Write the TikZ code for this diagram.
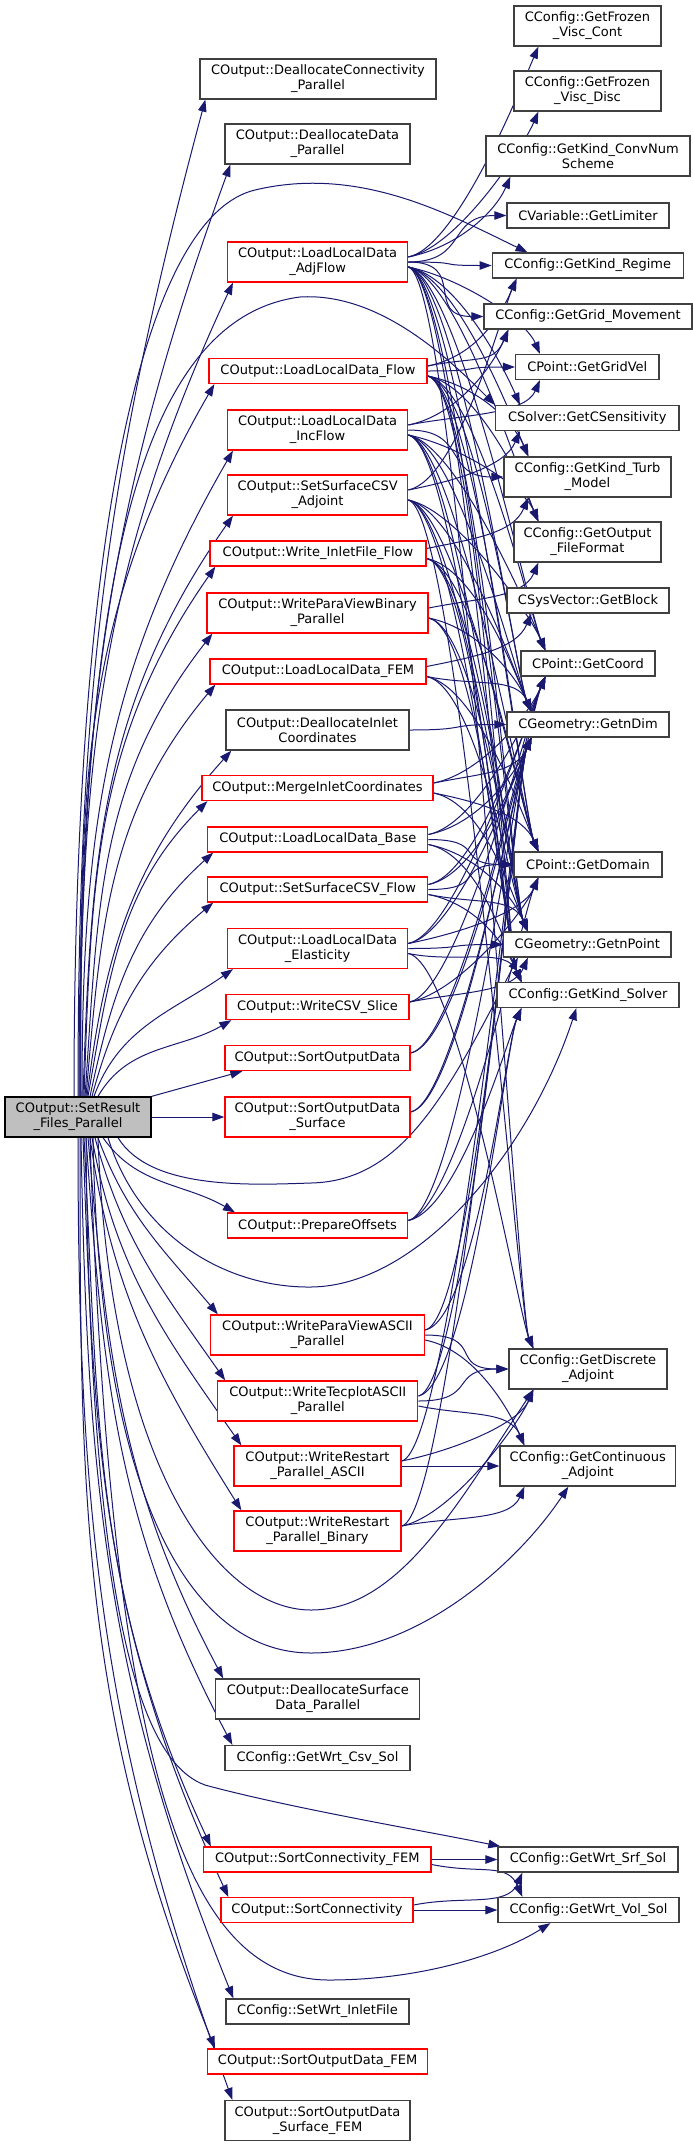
\documentclass[tikz,border=0pt]{standalone}
\usepackage{fontspec}
\setmainfont{DejaVu Sans}
\usetikzlibrary{arrows.meta}
\definecolor{edgec}{HTML}{191970}
\definecolor{bord}{HTML}{404040}
\definecolor{rootfill}{HTML}{BFBFBF}
\pgfdeclarelayer{bg}
\pgfsetlayers{bg,main}
\begin{document}
\begin{tikzpicture}[x=1pt,y=1pt,
  box/.style={draw=bord, line width=1.3pt, fill=white, inner sep=0pt, align=center, font=\fontsize{13}{15}\selectfont},
  rbox/.style={box, draw=red},
  rootbox/.style={box, draw=black, fill=rootfill},
  e/.style={draw=edgec, line width=1pt, -{Triangle[length=12pt,width=8.5pt]}}]
\useasboundingbox (0,0) rectangle (693,-2147);
% root
\node[rootbox, minimum width=146pt, minimum height=40pt] (root) at (78,-1117) {COutput::SetResult\\\_Files\_Parallel};
% middle column
\node[box, minimum width=236pt, minimum height=40pt] (dcp) at (318,-79) {COutput::DeallocateConnectivity\\\_Parallel};
\node[box, minimum width=185pt, minimum height=40pt] (ddp) at (317.5,-144) {COutput::DeallocateData\\\_Parallel};
\node[rbox, minimum width=180pt, minimum height=40pt] (adj) at (317.6,-262) {COutput::LoadLocalData\\\_AdjFlow};
\node[rbox, minimum width=218pt, minimum height=25pt] (flow) at (318,-371) {COutput::LoadLocalData\_Flow};
\node[rbox, minimum width=180pt, minimum height=40pt] (inc) at (317.6,-430) {COutput::LoadLocalData\\\_IncFlow};
\node[rbox, minimum width=180pt, minimum height=40pt] (sadj) at (317.6,-495) {COutput::SetSurfaceCSV\\\_Adjoint};
\node[rbox, minimum width=216pt, minimum height=25pt] (inlet) at (318,-553.5) {COutput::Write\_InletFile\_Flow};
\node[rbox, minimum width=221pt, minimum height=40pt] (pvb) at (317.5,-613) {COutput::WriteParaViewBinary\\\_Parallel};
\node[rbox, minimum width=216pt, minimum height=25pt] (fem) at (318,-671.5) {COutput::LoadLocalData\_FEM};
\node[box, minimum width=183pt, minimum height=40pt] (dic) at (317.5,-730) {COutput::DeallocateInlet\\Coordinates};
\node[rbox, minimum width=231pt, minimum height=25pt] (mic) at (317.5,-788) {COutput::MergeInletCoordinates};
\node[rbox, minimum width=220pt, minimum height=25pt] (base) at (317.8,-839.5) {COutput::LoadLocalData\_Base};
\node[rbox, minimum width=220pt, minimum height=25pt] (sflow) at (317.8,-889.5) {COutput::SetSurfaceCSV\_Flow};
\node[rbox, minimum width=180pt, minimum height=40pt] (elas) at (317.6,-948.5) {COutput::LoadLocalData\\\_Elasticity};
\node[rbox, minimum width=183pt, minimum height=25pt] (slice) at (317.5,-1007) {COutput::WriteCSV\_Slice};
\node[rbox, minimum width=185pt, minimum height=25pt] (sod) at (317.5,-1058) {COutput::SortOutputData};
\node[rbox, minimum width=185pt, minimum height=40pt] (sods) at (317.5,-1117) {COutput::SortOutputData\\\_Surface};
\node[rbox, minimum width=180pt, minimum height=25pt] (prep) at (317.6,-1225.5) {COutput::PrepareOffsets};
\node[rbox, minimum width=214pt, minimum height=40pt] (pva) at (317.5,-1335) {COutput::WriteParaViewASCII\\\_Parallel};
\node[rbox, minimum width=200pt, minimum height=40pt] (tec) at (317.8,-1401) {COutput::WriteTecplotASCII\\\_Parallel};
\node[rbox, minimum width=167pt, minimum height=40pt] (rasc) at (317.5,-1466) {COutput::WriteRestart\\\_Parallel\_ASCII};
\node[rbox, minimum width=167pt, minimum height=40pt] (rbin) at (317.5,-1531) {COutput::WriteRestart\\\_Parallel\_Binary};
\node[box, minimum width=204pt, minimum height=40pt] (dsd) at (317.8,-1699) {COutput::DeallocateSurface\\Data\_Parallel};
\node[box, minimum width=185pt, minimum height=25pt] (csv) at (317.5,-1758) {CConfig::GetWrt\_Csv\_Sol};
\node[rbox, minimum width=227.6pt, minimum height=25pt] (scf) at (317.3,-1859.5) {COutput::SortConnectivity\_FEM};
\node[rbox, minimum width=192pt, minimum height=25pt] (sc) at (317,-1910) {COutput::SortConnectivity};
\node[box, minimum width=183pt, minimum height=25pt] (swi) at (317.5,-2011.5) {CConfig::SetWrt\_InletFile};
\node[rbox, minimum width=220pt, minimum height=25pt] (sodf) at (317.6,-2061.5) {COutput::SortOutputData\_FEM};
\node[box, minimum width=185pt, minimum height=40pt] (sodsf) at (317.5,-2120.5) {COutput::SortOutputData\\\_Surface\_FEM};
% right column
\node[box, minimum width=147pt, minimum height=40pt] (fvc) at (587.5,-26) {CConfig::GetFrozen\\\_Visc\_Cont};
\node[box, minimum width=147pt, minimum height=40pt] (fvd) at (587.5,-91) {CConfig::GetFrozen\\\_Visc\_Disc};
\node[box, minimum width=204pt, minimum height=40pt] (conv) at (588,-156) {CConfig::GetKind\_ConvNum\\Scheme};
\node[box, minimum width=162pt, minimum height=25pt] (lim) at (588,-215.5) {CVariable::GetLimiter};
\node[box, minimum width=191pt, minimum height=25pt] (regime) at (587.7,-265.5) {CConfig::GetKind\_Regime};
\node[box, minimum width=208pt, minimum height=25pt] (grid) at (588,-316.5) {CConfig::GetGrid\_Movement};
\node[box, minimum width=143.5pt, minimum height=25pt] (gvel) at (587.3,-367) {CPoint::GetGridVel};
\node[box, minimum width=183.5pt, minimum height=25pt] (csens) at (587.3,-418) {CSolver::GetCSensitivity};
\node[box, minimum width=167pt, minimum height=40pt] (turb) at (587.5,-477) {CConfig::GetKind\_Turb\\\_Model};
\node[box, minimum width=147pt, minimum height=40pt] (ffmt) at (587.5,-542) {CConfig::GetOutput\\\_FileFormat};
\node[box, minimum width=162pt, minimum height=25pt] (block) at (588,-600.5) {CSysVector::GetBlock};
\node[box, minimum width=134pt, minimum height=25pt] (coord) at (588,-663.5) {CPoint::GetCoord};
\node[box, minimum width=162pt, minimum height=25pt] (ndim) at (588,-724.5) {CGeometry::GetnDim};
\node[box, minimum width=148pt, minimum height=25pt] (dom) at (588,-864.5) {CPoint::GetDomain};
\node[box, minimum width=167.6pt, minimum height=25pt] (npt) at (587.3,-944.5) {CGeometry::GetnPoint};
\node[box, minimum width=182pt, minimum height=25pt] (solver) at (588,-995) {CConfig::GetKind\_Solver};
\node[box, minimum width=158pt, minimum height=40pt] (disc) at (588,-1369) {CConfig::GetDiscrete\\\_Adjoint};
\node[box, minimum width=175.6pt, minimum height=40pt] (cont) at (587.8,-1466) {CConfig::GetContinuous\\\_Adjoint};
\node[box, minimum width=180pt, minimum height=25pt] (srf) at (588,-1859.5) {CConfig::GetWrt\_Srf\_Sol};
\node[box, minimum width=181pt, minimum height=25pt] (vol) at (588.5,-1910) {CConfig::GetWrt\_Vol\_Sol};

\begin{pgfonlayer}{bg}
\fill[white] (0,0) rectangle (693,-2147);
% root to middle nodes above
\foreach \n/\o/\i/\s in {dcp/90/-105/0, ddp/90/-110/1, adj/90/-115/2, flow/90/-120/3, inc/90/-120/4,
  sadj/88/-125/5, inlet/88/-125/6, pvb/86/-128/7, fem/85/-130/8, dic/83/-132/9, mic/80/-135/10,
  base/78/-138/12, sflow/75/-140/14, elas/70/-145/16, slice/60/-150/20}
  \draw[e] ([xshift=\s pt]root.north) to[out=\o,in=\i] ([xshift=6pt]\n.south west);
\draw[e] (root.north east) -- ([xshift=18pt]sod.south west);
\draw[e] (root.east) -- (sods.west);
% root to middle nodes below
\foreach \n/\o/\i/\s in {prep/-55/150/25, pva/-70/130/20, tec/-75/125/17, rasc/-80/125/14,
  rbin/-82/122/12, dsd/-85/118/10, csv/-86/118/8, scf/-87/115/6, sc/-88/115/5, swi/-89/112/3,
  sodf/-90/112/2, sodsf/-90/110/0}
  \draw[e] ([xshift=\s pt]root.south) to[out=\o,in=\i] ([xshift=8pt]\n.north west);
% root to right column
\draw[e] ([xshift=-4pt]root.north) .. controls (74,-500) and (150,-215) .. (255,-190) .. controls (360,-165) and (450,-215) .. ([xshift=36pt]regime.north west);
\draw[e] ([xshift=2pt]root.north) .. controls (80,-650) and (120,-320) .. (300,-297) .. controls (380,-292) and (450,-360) .. (csens.north west);
\draw[e] ([xshift=40pt]root.south) .. controls (150,-1190) and (250,-1185) .. (311,-1183) .. controls (400,-1181) and (445,-1100) .. ([xshift=15pt]npt.south west);
\draw[e] ([xshift=30pt]root.south) .. controls (140,-1240) and (230,-1288) .. (311,-1287) .. controls (420,-1286) and (530,-1150) .. ([xshift=80pt]solver.south west);
\draw[e] ([xshift=20pt]root.south) .. controls (110,-1470) and (220,-1610) .. (311,-1610) .. controls (400,-1610) and (460,-1500) .. ([xshift=25pt]disc.south west);
\draw[e] ([xshift=15pt]root.south) .. controls (100,-1520) and (200,-1653) .. (311,-1653) .. controls (420,-1653) and (520,-1560) .. ([xshift=69pt]cont.south west);
\draw[e] ([xshift=8pt]root.south) .. controls (90,-1650) and (150,-1765) .. (205,-1785) .. controls (290,-1808) and (420,-1830) .. ([xshift=3pt]srf.north west);
\draw[e] ([xshift=12pt]root.south) .. controls (110,-1750) and (180,-1980) .. (329,-1980) .. controls (420,-1980) and (500,-1955) .. ([xshift=53pt]vol.south west);
% middle to right: level
\foreach \a/\b in {adj/lim, adj/regime, adj/grid, flow/gvel, inc/turb, dic/ndim, base/dom, sflow/dom,
  elas/npt, pva/disc, tec/disc, rasc/cont, scf/srf, sc/vol}
  \draw[e] (\a.east) .. controls +(60,0) and +(-60,0) .. (\b.west);
% middle to right: upward
\foreach \a/\b in {adj/fvc, adj/fvd, adj/conv, flow/regime, flow/grid, inc/grid, inc/gvel,
  sadj/csens, sadj/regime, inlet/turb, pvb/ffmt, fem/block, mic/ndim, mic/coord,
  base/ndim, base/coord, sflow/ndim, sflow/coord, elas/dom, elas/coord, elas/ndim,
  slice/npt, slice/dom, slice/coord, sod/coord, sod/ndim, sods/coord, sods/ndim,
  prep/solver, prep/ndim, prep/dom, pva/solver, pva/ndim, tec/ndim, tec/solver,
  rasc/disc, rasc/ndim, rbin/cont, rbin/disc, rbin/ndim, sc/srf}
  \draw[e] ([yshift=5pt]\a.east) .. controls +(50,10) and +(-15,-35) .. ([xshift=25pt]\b.south west);
% middle to right: downward
\foreach \a/\b in {adj/gvel, adj/csens, adj/turb, adj/ffmt, adj/coord, adj/ndim, adj/dom, adj/npt,
  adj/solver, adj/disc, flow/turb, flow/ffmt, flow/coord, flow/ndim, flow/dom, flow/npt, flow/solver,
  inc/ffmt, inc/coord, inc/ndim, inc/dom, inc/npt, inc/solver,
  sadj/coord, sadj/ndim, sadj/dom, sadj/npt, sadj/solver, sadj/disc,
  inlet/ndim, inlet/dom, inlet/npt, inlet/solver, pvb/ndim, pvb/npt, pvb/solver,
  fem/ndim, fem/dom, fem/npt, mic/dom, mic/npt, base/npt, base/solver,
  sflow/npt, sflow/solver, elas/solver, elas/disc, pva/cont, tec/cont, scf/vol}
  \draw[e] ([yshift=-5pt]\a.east) .. controls +(50,-10) and +(-15,35) .. ([xshift=25pt]\b.north west);
\end{pgfonlayer}
\end{tikzpicture}
\end{document}
